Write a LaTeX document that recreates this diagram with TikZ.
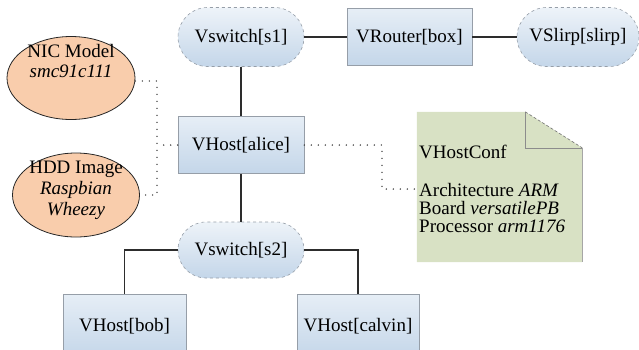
\documentclass[tikz,border=0pt]{standalone}
\usepackage{fontspec}
\setmainfont{Liberation Serif}
\usetikzlibrary{shapes.misc,shapes.geometric}
\definecolor{boxtop}{RGB}{230,238,246}
\definecolor{boxbot}{RGB}{196,214,233}
\definecolor{boxline}{RGB}{150,158,168}
\definecolor{orangefill}{RGB}{249,205,172}
\definecolor{notefill}{RGB}{216,225,196}
\definecolor{linkc}{RGB}{45,45,45}
\tikzset{
  basefont/.style={font=\fontsize{19}{19}\selectfont},
  hostbox/.style={rectangle, draw=boxline, line width=0.6pt, top color=boxtop, bottom color=boxbot, inner sep=0pt, basefont},
  switchbox/.style={rounded rectangle, draw=boxline, dashed, line width=0.6pt, top color=boxtop!70!white, bottom color=boxbot, inner sep=0pt, basefont},
  infoell/.style={ellipse, draw=black!85, line width=0.8pt, fill=orangefill, inner sep=0pt},
  infotext/.style={align=center, inner sep=0pt},
  link/.style={draw=linkc, line width=1.8pt},
  dotline/.style={draw=black!75, line width=1.6pt, line cap=round, dash pattern=on 0pt off 7pt},
}
\begin{document}
\begin{tikzpicture}[x=1pt,y=-1pt]
\useasboundingbox (0,0) rectangle (639,349);
\clip (0,0) rectangle (639,349);
% switches and hosts
\node[switchbox, minimum width=126pt, minimum height=59pt] (s1) at (241,37) {Vswitch[s1]};
\node[hostbox, minimum width=125pt, minimum height=57pt] (router) at (409.5,37) {VRouter[box]};
\node[switchbox, minimum width=122pt, minimum height=59pt] (slirp) at (578,37) {VSlirp[slirp]};
\node[hostbox, minimum width=126pt, minimum height=57pt] (alice) at (241,145) {VHost[alice]};
\node[switchbox, minimum width=126pt, minimum height=56pt] (s2) at (241,250) {Vswitch[s2]};
\node[hostbox, minimum width=123pt, minimum height=64pt] (bob) at (124.5,326) {VHost[bob]};
\node[hostbox, minimum width=122pt, minimum height=64pt] (calvin) at (358,326) {VHost[calvin]};
% info ellipses
\node[infoell, minimum width=128pt, minimum height=83pt] (nic) at (71,78) {};
\node[infotext, font=\fontsize{19}{20}\selectfont] (nictext) at (71,61) {NIC Model\\\textit{smc91c111}};
\node[infoell, minimum width=127pt, minimum height=84pt] (hdd) at (76,195) {};
\node[infotext, font=\fontsize{19}{21}\selectfont] (hddtext) at (76,190) {HDD Image\\\textit{Raspbian}\\\textit{Wheezy}};
% note
\node[rectangle, minimum width=165pt, minimum height=150pt, inner sep=0pt] (conf) at (499.5,187) {};
\fill[notefill] (conf.north west) -- ([xshift=-57pt]conf.north east) -- ([yshift=-36pt]conf.north east) -- (conf.south east) -- (conf.south west) -- cycle;
\draw[draw=black!35, line width=0.6pt] ([yshift=-36pt]conf.north east) -- (conf.south east);
\draw[draw=black!45, line width=0.5pt] ([xshift=-57pt]conf.north east) -- ([xshift=-57pt,yshift=-36pt]conf.north east) -- ([yshift=-36pt]conf.north east);
\draw[draw=black!55, line width=0.6pt, densely dashed] ([xshift=-57pt]conf.north east) -- ([yshift=-36pt]conf.north east);
\node[anchor=north west, align=left, inner sep=0pt, font=\fontsize{19}{18}\selectfont] (conftext) at (419,145) {VHostConf\\[20pt]Architecture \textit{ARM}\\Board \textit{versatilePB}\\Processor \textit{arm1176}};
% solid links
\draw[link] (s1.east) -- (router.west);
\draw[link] (router.east) -- (slirp.west);
\draw[link] (s1.south) -- (alice.north);
\draw[link] (alice.south) -- (s2.north);
\draw[link] (s2.west) -| (bob.north);
\draw[link] (s2.east) -| (calvin.north);
% dotted links
\coordinate (jl1) at (157,81);
\coordinate (jl2) at (157,195);
\coordinate (jr1) at (382,145);
\coordinate (jr2) at (382,189);
\coordinate (confin) at (417,189);
\draw[dotline] (nic.east |- jl1) -- (jl1) -- (jl2) -- (hdd.east);
\draw[dotline] (alice.west) -- (alice.west -| jl1);
\draw[dotline] (alice.east) -- (jr1) -- (jr2) -- (confin);
\end{tikzpicture}
\end{document}
